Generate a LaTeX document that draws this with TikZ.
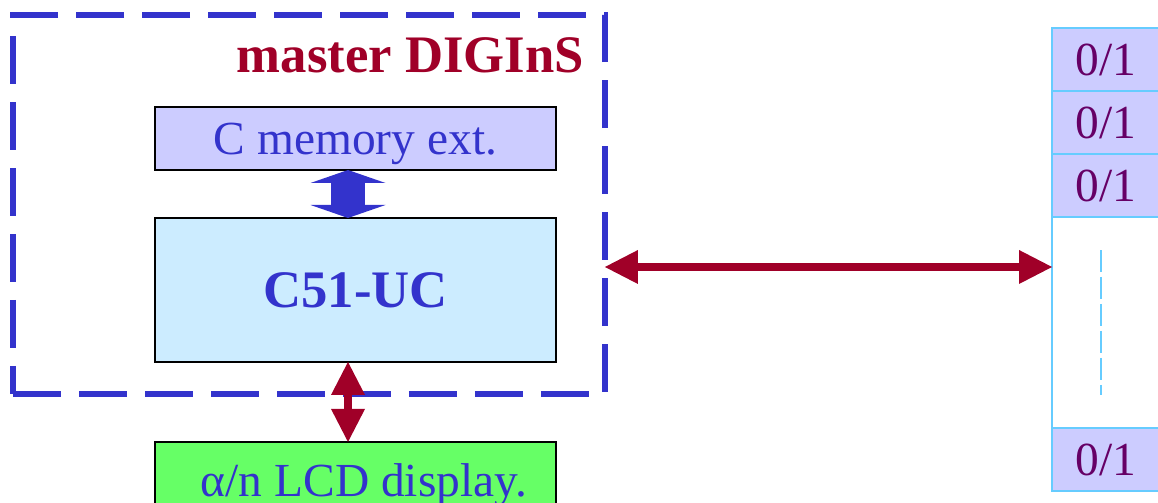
\documentclass[tikz,border=0pt]{standalone}
\usepackage{fontspec}
\setmainfont{Liberation Serif}
\usepackage{tikz}
\usetikzlibrary{positioning}
\usetikzlibrary{arrows.meta}

\definecolor{frameblue}{HTML}{3333CC}
\definecolor{linkred}{HTML}{A00028}
\definecolor{memfill}{HTML}{CCCCFF}
\definecolor{cpufill}{HTML}{CCECFF}
\definecolor{lcdfill}{HTML}{66FF66}
\definecolor{portblue}{HTML}{66CCFF}
\definecolor{bitpurple}{HTML}{660066}

\tikzset{
  unit/.style={draw=black,line width=1pt,minimum width=8.02cm,inner sep=0pt,outer sep=0pt,
    text=frameblue,text depth=0pt,font=\fontsize{27}{30}\selectfont},
  bit/.style={draw=portblue,fill=memfill,line width=1.1pt,minimum width=2.16cm,minimum height=1.26cm,
    inner sep=0pt,outer sep=0pt,text=bitpurple,text depth=0pt,font=\fontsize{27}{30}\selectfont},
  bus/.style={draw=linkred,line width=0.16cm,
    {Triangle[width=0.68cm,length=0.66cm,line width=0pt]}-{Triangle[width=0.68cm,length=0.66cm,line width=0pt]}}
}

\begin{document}
\begin{tikzpicture}[x=0.02cm,y=-0.02cm,node distance=0cm]
\useasboundingbox (0,0) rectangle (1158,503);
\clip (0,0) rectangle (1158,503);
\node[draw=frameblue,line width=0.11cm,dash pattern=on 0.96cm off 0.36cm,
  minimum width=11.84cm,minimum height=7.58cm,outer sep=0pt] (master) at (309,204.5) {};
\node[anchor=base east,text=linkred,font=\bfseries\fontsize{30}{34}\selectfont] (name) at (590,73) {master DIGInS};
\node[unit,fill=memfill,minimum height=1.26cm] (mem) at (355.5,138.5) {C memory ext.};
\node[unit,fill=cpufill,minimum height=2.88cm,font=\bfseries\fontsize{30}{34}\selectfont] (cpu) [below=0.96cm of mem] {C51-UC};
\node[unit,fill=lcdfill,minimum height=1.6cm] (lcd) [below=1.6cm of cpu] {\hspace*{0.34cm}\raisebox{0.06cm}{α/n LCD display.}};
\node[draw=portblue,line width=1.1pt,minimum width=2.16cm,minimum height=9.26cm,outer sep=0pt] (col) at (1106,259.5) {};
\node[bit,anchor=north] (b_1) at (col.north) {0/1};
\node[bit] (b_2) [below=of b_1] {0/1};
\node[bit] (b_3) [below=of b_2] {0/1};
\node[bit,anchor=south] (b_n) at (col.south) {0/1};
\draw[portblue,line width=1pt,dash pattern=on 0.44cm off 0.1cm]
  ([xshift=-0.1cm,yshift=-0.66cm]b_3.south) -- ([xshift=-0.1cm,yshift=0.66cm]b_n.north);
\draw[frameblue,line width=0.68cm,
  {Triangle[width=1.5cm,length=0.26cm,line width=0pt]}-{Triangle[width=1.5cm,length=0.26cm,line width=0pt]}]
  ([xshift=-0.15cm]mem.south) -- ([xshift=-0.15cm]cpu.north);
\draw[bus] ([xshift=-0.15cm]cpu.south) -- ([xshift=-0.15cm]lcd.north);
\coordinate (link) at ([yshift=-1.25cm]master.east);
\draw[bus] (link) -- (link -| col.west);
\end{tikzpicture}
\end{document}
